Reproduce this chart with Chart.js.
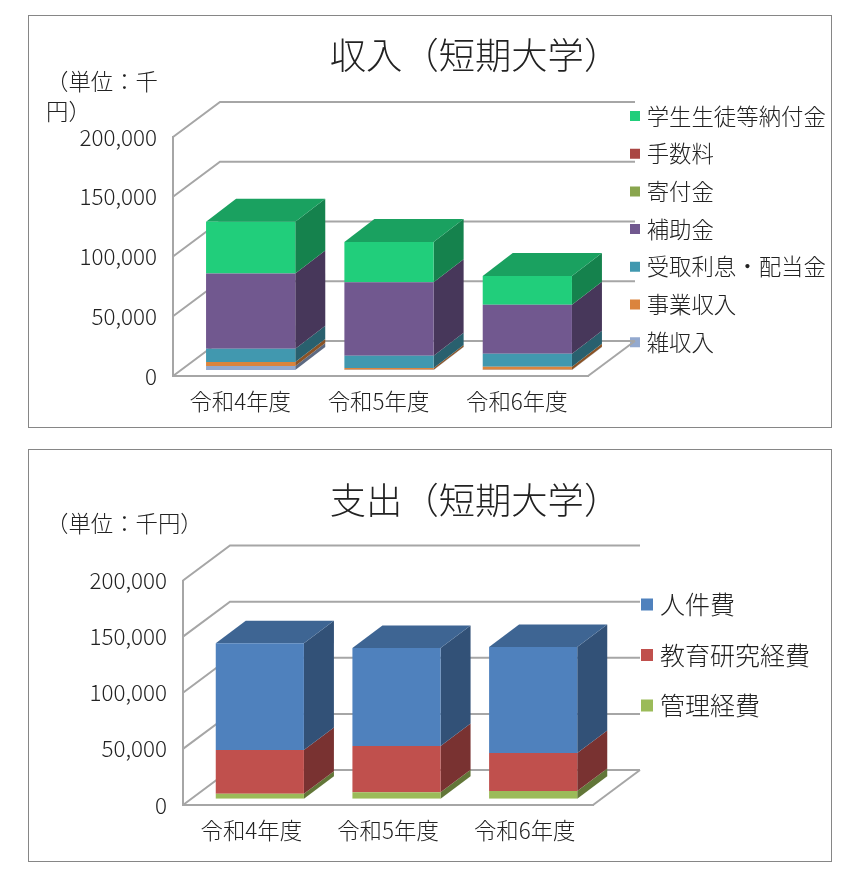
<!DOCTYPE html>
<html>
<head>
<meta charset="utf-8">
<style>
  html, body { margin: 0; padding: 0; background: #fff; }
  .frame { position: absolute; left: 28px; width: 802px; height: 411px; border: 1px solid #868686; }
  .frame canvas { position: absolute; left: 0; top: 0; }
</style>
<script src="https://cdn.jsdelivr.net/npm/chart.js@4/dist/chart.umd.min.js"></script>
</head>
<body>
<div class="frame" style="top:15px"><canvas id="income" width="802" height="411"></canvas></div>
<div class="frame" style="top:449px"><canvas id="expense" width="802" height="411"></canvas></div>
<script>
var FONT = '"Noto Sans CJK JP", sans-serif';
var WEIGHT = 300;

var categories = ['令和4年度', '令和5年度', '令和6年度'];

// income, thousand yen
var incomeTitle = '収入（短期大学）';
var incomeUnit = ['（単位：千', '円）'];
var miscIncome = [3400, 300, 300];
var businessIncome = [3400, 1300, 2500];
var interestIncome = [10900, 10300, 10700];
var subsidies = [63000, 61600, 41200];
var donations = [0, 0, 0];
var fees = [0, 0, 0];
var tuition = [43400, 33600, 24000];

// expense, thousand yen
var expenseTitle = '支出（短期大学）';
var expenseUnit = ['（単位：千円）'];
var adminCost = [4500, 5900, 6800];
var researchCost = [39000, 41000, 33900];
var personnelCost = [95100, 87400, 94500];

function shade(hex, f) {
  var n = parseInt(hex.slice(1), 16);
  var r = Math.round((n >> 16) * f), g = Math.round(((n >> 8) & 255) * f), b = Math.round((n & 255) * f);
  return 'rgb(' + r + ',' + g + ',' + b + ')';
}

/* fake 3D: back walls, bar sides and lids are built from the scales and bar elements */
var box3d = {
  id: 'box3d',
  afterLayout: function(chart) {
    var o = chart.options.plugins.box3d;
    chart.boxes.forEach(function(b) {
      if (b === chart.legend) {
        b.width = 230;
        b.left = o.legendX - b.options.labels.padding;
        b.right = b.left + b.width;
        b.top = o.legendY;
        b.bottom = chart.height;
      } else if (b === chart.titleBlock) {
        var h = b.height;
        b.left = o.titleX - 200;
        b.right = o.titleX + 200;
        b.top = o.titleY - h / 2;
        b.bottom = b.top + h;
      } else if (b.options && b.options.align === 'start' && b.options.text) {
        var sh = b.height;
        b.top = o.unitY;
        b.bottom = b.top + sh;
      }
    });
  },
  beforeDatasetsDraw: function(chart) {
    var o = chart.options.plugins.box3d;
    var ctx = chart.ctx, y = chart.scales.y, a = chart.chartArea;
    var insetX = (o.wallX - o.barX) / 2, insetY = (o.wallY - o.barY) / 2;

    ctx.save();
    ctx.strokeStyle = '#a6a6a6';
    ctx.lineWidth = 2;
    y.ticks.forEach(function(t) {
      var py = y.getPixelForValue(t.value);
      ctx.beginPath();
      ctx.moveTo(a.left, py);
      ctx.lineTo(a.left + o.wallX, py + o.wallY);
      ctx.lineTo(a.right + o.wallX, py + o.wallY);
      ctx.stroke();
    });
    var base = y.getPixelForValue(0);
    ctx.beginPath();
    ctx.moveTo(a.right, base);
    ctx.lineTo(a.right + o.wallX, base + o.wallY);
    ctx.stroke();

    // sides first, then the lid of the highest segment of every stack
    ctx.translate(insetX, insetY);
    categories.forEach(function(c, j) {
      var lid = null;
      chart.data.datasets.forEach(function(ds, i) {
        var el = chart.getDatasetMeta(i).data[j];
        if (!ds.data[j]) return;
        var right = el.x + el.width / 2;
        ctx.fillStyle = shade(ds.backgroundColor, 0.63);
        ctx.beginPath();
        ctx.moveTo(right, el.base);
        ctx.lineTo(right + o.barX, el.base + o.barY);
        ctx.lineTo(right + o.barX, el.y + o.barY);
        ctx.lineTo(right, el.y);
        ctx.closePath();
        ctx.fill();
        lid = { el: el, color: ds.backgroundColor };
      });
      if (lid) {
        var l = lid.el.x - lid.el.width / 2, r = lid.el.x + lid.el.width / 2;
        ctx.fillStyle = shade(lid.color, 0.78);
        ctx.beginPath();
        ctx.moveTo(l, lid.el.y);
        ctx.lineTo(l + o.barX, lid.el.y + o.barY);
        ctx.lineTo(r + o.barX, lid.el.y + o.barY);
        ctx.lineTo(r, lid.el.y);
        ctx.closePath();
        ctx.fill();
      }
    });
    ctx.restore();

    // the front faces sit a little inside the floor
    ctx.save();
    ctx.translate(insetX, insetY);
  },
  afterDatasetsDraw: function(chart) {
    chart.ctx.restore();
  }
};

function makeChart(id, title, unit, datasets, s) {
  return new Chart(document.getElementById(id), {
    type: 'bar',
    data: { labels: categories, datasets: datasets },
    plugins: [box3d],
    options: {
      responsive: false,
      animation: false,
      layout: { padding: { left: s.left, top: s.titleTop, right: s.padRight, bottom: s.padBottom } },
      scales: {
        x: {
          stacked: true,
          grid: { display: false, drawTicks: false },
          border: { display: true, color: '#a6a6a6', width: 2 },
          ticks: { color: '#222', padding: 12, labelOffset: s.labelOffset, maxRotation: 0, font: { family: FONT, size: 22.4, weight: WEIGHT } },
          afterFit: function(sc) { sc.height = 40; }
        },
        y: {
          stacked: true,
          min: 0,
          max: 200000,
          grid: { display: false, drawTicks: false },
          border: { display: true, color: '#a6a6a6', width: 2 },
          ticks: {
            stepSize: 50000,
            color: '#222',
            padding: 16,
            font: { family: FONT, size: 22.4, weight: WEIGHT },
            callback: function(v) { return v.toLocaleString('en-US'); }
          },
          afterFit: function(sc) { sc.width = s.axisWidth; }
        }
      },
      plugins: {
        box3d: s,
        tooltip: { enabled: false },
        title: {
          display: true,
          text: title,
          color: '#222',
          font: { family: FONT, size: 36.3, weight: WEIGHT, lineHeight: 1.2 },
          padding: { top: 0, bottom: 0 }
        },
        subtitle: {
          display: true,
          text: unit,
          align: 'start',
          color: '#222',
          font: { family: FONT, size: 22.4, weight: WEIGHT, lineHeight: 30 / 22.4 },
          padding: { top: 0, bottom: s.unitGap }
        },
        legend: {
          position: 'right',
          align: 'start',
          reverse: true,
          maxWidth: 150,
          labels: {
            color: '#222',
            usePointStyle: true,
            pointStyle: 'rect',
            boxWidth: 1,
            boxHeight: s.legendBox,
            padding: s.legendPad,
            font: { family: FONT, size: s.legendFont, weight: WEIGHT }
          }
        }
      }
    }
  });
}

function series(label, values, color) {
  return { label: label, data: values, backgroundColor: color, borderWidth: 0, categoryPercentage: 1, barPercentage: 0.645 };
}

makeChart('income', incomeTitle, incomeUnit, [
  series('雑収入', miscIncome, '#93A9CF'),
  series('事業収入', businessIncome, '#DB843D'),
  series('受取利息・配当金', interestIncome, '#4198AF'),
  series('補助金', subsidies, '#71588F'),
  series('寄付金', donations, '#89A54E'),
  series('手数料', fees, '#AA4643'),
  series('学生生徒等納付金', tuition, '#21CE7B')
], {
  left: 17, titleTop: 16, axisWidth: 127, padRight: 93, padBottom: 11, unitGap: 1.5, labelOffset: -2,
  wallX: 47, wallY: -35, barX: 30, barY: -23,
  titleX: 446, titleY: 39, unitY: 50,
  legendX: 605.5, legendY: 73.5, legendBox: 10, legendPad: 15.3, legendFont: 22.4
});

makeChart('expense', expenseTitle, expenseUnit, [
  series('管理経費', adminCost, '#9BBB59'),
  series('教育研究経費', researchCost, '#C0504D'),
  series('人件費', personnelCost, '#4F81BD')
], {
  left: 17, titleTop: 26, axisWidth: 137, padRight: 88, padBottom: 16, unitGap: 31, labelOffset: 0,
  wallX: 47, wallY: -35, barX: 30, barY: -22.5,
  titleX: 446, titleY: 50, unitY: 58,
  legendX: 617.5, legendY: 116.5, legendBox: 12, legendPad: 25.5, legendFont: 25
});
</script>
</body>
</html>
